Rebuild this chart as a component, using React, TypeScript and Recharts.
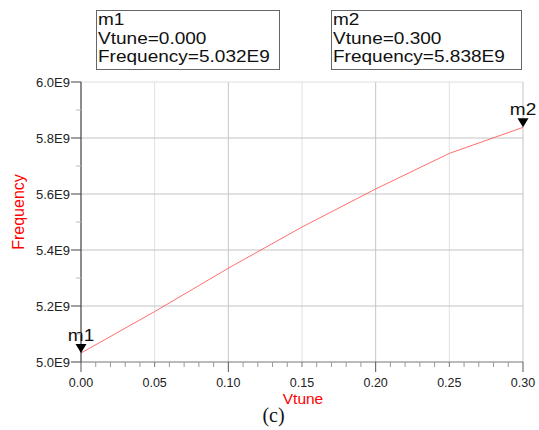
import React from 'react';
import { ComposedChart, Line, XAxis, YAxis, ReferenceLine, ReferenceDot } from 'recharts';

// ---- data ----
const vtune = [0, 0.05, 0.1, 0.15, 0.2, 0.25, 0.3];
const frequency = [5.032e9, 5.18e9, 5.335e9, 5.482e9, 5.618e9, 5.745e9, 5.838e9];

const markerNames = ['m1', 'm2'];
const markerVtune = [0.0, 0.3];
const markerFreq = [5.032e9, 5.838e9];
const markerVtuneText = ['0.000', '0.300'];
const markerFreqText = ['5.032E9', '5.838E9'];

const xTicks = [
  0, 0.01, 0.02, 0.03, 0.04, 0.05, 0.06, 0.07, 0.08, 0.09,
  0.1, 0.11, 0.12, 0.13, 0.14, 0.15, 0.16, 0.17, 0.18, 0.19,
  0.2, 0.21, 0.22, 0.23, 0.24, 0.25, 0.26, 0.27, 0.28, 0.29, 0.3,
];
const xLabeled = [0, 0.05, 0.1, 0.15, 0.2, 0.25, 0.3];
const xTickLabels = ['0.00', '0.05', '0.10', '0.15', '0.20', '0.25', '0.30'];
const yTicks = [5.0e9, 5.1e9, 5.2e9, 5.3e9, 5.4e9, 5.5e9, 5.6e9, 5.7e9, 5.8e9, 5.9e9, 6.0e9];
const yLabeled = [5.0e9, 5.2e9, 5.4e9, 5.6e9, 5.8e9, 6.0e9];
const yTickLabels = ['5.0E9', '5.2E9', '5.4E9', '5.6E9', '5.8E9', '6.0E9'];

const xGridLight = [0.05, 0.15, 0.25];
const xGridDark = [0.1, 0.2, 0.3];
const yGridDark = [5.2e9, 5.4e9, 5.6e9, 5.8e9];
const yGridLight = [6.0e9];

const lineData = vtune.map((v, i) => ({ v, f: frequency[i] }));

const FONT = '"Liberation Sans", Arial, sans-serif';

const XTick = (props: any) => {
  const { x, y, payload } = props;
  const val = payload.value as number;
  const k = Math.round(val * 100);
  const major10 = k % 10 === 0;
  const major5 = k % 5 === 0;
  const len = major10 ? 10 : 5;
  const stroke = major10 ? '#555' : major5 ? '#777' : '#999';
  const li = xLabeled.findIndex((t) => Math.abs(t - val) < 1e-9);
  return (
    <g>
      <line x1={x} x2={x} y1={y} y2={y + len} stroke={stroke} strokeWidth={1} />
      {li >= 0 && (
        <text x={x} y={y + 25} textAnchor="middle" fontSize={12.5} fill="#222" fontFamily={FONT}>
          {xTickLabels[li]}
        </text>
      )}
    </g>
  );
};

const YTick = (props: any) => {
  const { x, y, payload } = props;
  const val = payload.value as number;
  const li = yLabeled.findIndex((t) => Math.abs(t - val) < 1);
  const major = li >= 0;
  return (
    <g>
      <line x1={x - (major ? 10 : 5)} x2={x} y1={y} y2={y} stroke={major ? '#444' : '#bbb'} strokeWidth={1} />
      {major && (
        <text x={x - 11} y={y} dy="0.35em" textAnchor="end" fontSize={13} fill="#222" fontFamily={FONT}>
          {yTickLabels[li]}
        </text>
      )}
    </g>
  );
};

const makeMarkerShape = (name: string) => (props: any) => {
  const { cx, cy } = props;
  return (
    <g>
      <polygon points={`${cx - 5.5},${cy - 9} ${cx + 5.5},${cy - 9} ${cx},${cy}`} fill="#000" />
      <text
        transform={`translate(${cx},${cy - 12}) scale(1.12,1)`}
        textAnchor="middle"
        fontSize={17}
        fill="#111"
        fontFamily={FONT}
      >
        {name}
      </text>
    </g>
  );
};

const boxes = [
  { x: 96.5, y: 10.5, w: 183, h: 59 },
  { x: 331.5, y: 10.5, w: 190, h: 59 },
];

export default function App() {
  return (
    <div style={{ position: 'absolute', left: 0, top: 0, width: 539, height: 430, background: '#fff' }}>
      <ComposedChart
        width={539}
        height={430}
        data={lineData}
        margin={{ top: 82, right: 16, left: 0, bottom: 38 }}
      >
        {xGridLight.map((v) => (
          <ReferenceLine key={'xl' + v} x={v} stroke="#e2e2e2" strokeWidth={1} />
        ))}
        {xGridDark.map((v) => (
          <ReferenceLine key={'xd' + v} x={v} stroke="#c4c4c4" strokeWidth={1} />
        ))}
        {yGridDark.map((v) => (
          <ReferenceLine key={'yd' + v} y={v} stroke="#c4c4c4" strokeWidth={1} />
        ))}
        {yGridLight.map((v) => (
          <ReferenceLine key={'yl' + v} y={v} stroke="#dedede" strokeWidth={1} />
        ))}
        <XAxis
          dataKey="v"
          type="number"
          domain={[0, 0.3]}
          ticks={xTicks}
          interval={0}
          tickSize={0}
          tickMargin={0}
          tickLine={false}
          tick={<XTick />}
          height={30}
          axisLine={{ stroke: '#777', strokeWidth: 1 }}
          allowDataOverflow
        />
        <YAxis
          dataKey="f"
          type="number"
          domain={[5.0e9, 6.0e9]}
          ticks={yTicks}
          interval={0}
          tickSize={0}
          tickMargin={0}
          tickLine={false}
          tick={<YTick />}
          width={81}
          axisLine={{ stroke: '#666', strokeWidth: 1.5 }}
          allowDataOverflow
        />
        <Line
          dataKey="f"
          type="linear"
          stroke="#ff4a4a"
          strokeWidth={0.8}
          dot={false}
          activeDot={false}
          isAnimationActive={false}
        />
        {markerNames.map((n, i) => (
          <ReferenceDot
            key={n}
            x={markerVtune[i]}
            y={markerFreq[i]}
            r={5}
            ifOverflow="visible"
            shape={makeMarkerShape(n)}
          />
        ))}
      </ComposedChart>
      <svg
        width={539}
        height={430}
        style={{ position: 'absolute', left: 0, top: 0, pointerEvents: 'none' }}
      >
        {boxes.map((b, i) => (
          <g key={i}>
            <rect x={b.x} y={b.y} width={b.w} height={b.h} fill="#fff" stroke="#666" strokeWidth={1} />
            {[markerNames[i], 'Vtune=' + markerVtuneText[i], 'Frequency=' + markerFreqText[i]].map((t, j) => (
              <text
                key={j}
                transform={`translate(${b.x + 1.5},${25.3 + j * 18.5}) scale(1.12,1)`}
                fontSize={17}
                fill="#111"
                fontFamily={FONT}
              >
                {t}
              </text>
            ))}
          </g>
        ))}
        <text
          transform="translate(24,212) rotate(-90)"
          textAnchor="middle"
          fontSize={16}
          fill="#ff0000"
          fontFamily={FONT}
        >
          Frequency
        </text>
        <text x={303} y={404} textAnchor="middle" fontSize={15.5} fill="#ff0000" fontFamily={FONT}>
          Vtune
        </text>
        <text x={273.5} y={422} textAnchor="middle" fontSize={20} fill="#111" fontFamily='"Liberation Serif", "Times New Roman", serif'>
          (c)
        </text>
      </svg>
    </div>
  );
}
